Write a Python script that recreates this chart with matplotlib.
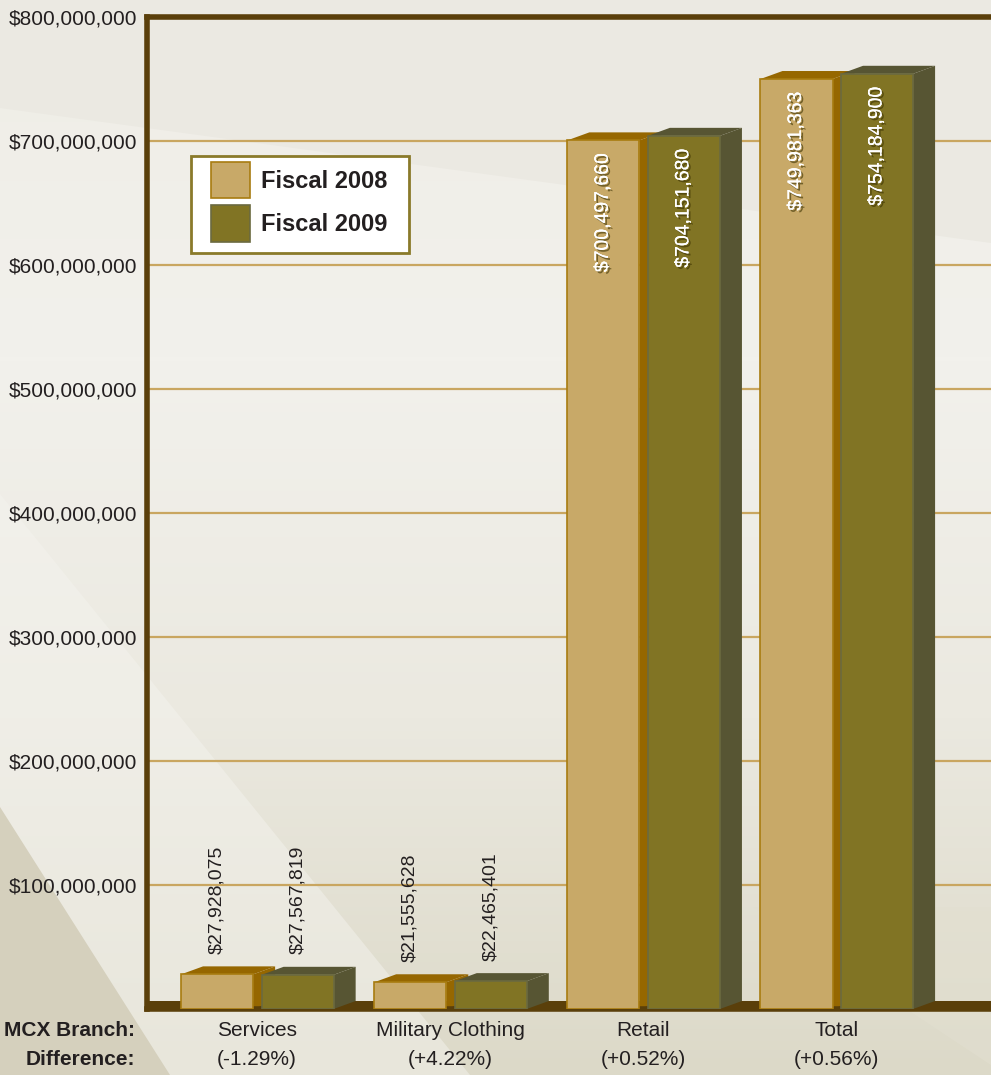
import matplotlib
matplotlib.use("Agg")
import numpy as np
import matplotlib.pyplot as plt
import matplotlib.patheffects as pe
from matplotlib.patches import Polygon, Patch, Rectangle
from matplotlib.colors import LinearSegmentedColormap
from matplotlib.ticker import FuncFormatter

plt.rcParams['font.family'] = ['Liberation Sans', 'DejaVu Sans']

# data
branches = ['Services', 'Military Clothing', 'Retail', 'Total']
differences = ['(-1.29%)', '(+4.22%)', '(+0.52%)', '(+0.56%)']
fiscal_2008 = [27928075, 21555628, 700497660, 749981363]
fiscal_2009 = [27567819, 22465401, 704151680, 754184900]
series_names = ['Fiscal 2008', 'Fiscal 2009']

front_cols = ['#c8a968', '#817424']
side_cols = ['#966700', '#575533']
edge_cols = ['#a87c10', '#6b6a40']
txt = '#231f20'

fig = plt.figure(figsize=(9.91, 10.75), dpi=100)
fig.patch.set_facecolor('#ebe8df')

# background: vertical gradient plus a few soft diagonal shapes (figure pixel coords)
W, H = 991, 1075
bg = fig.add_axes([0, 0, 1, 1], zorder=-10)
grad = np.linspace(0, 1, 256).reshape(-1, 1)
cm = LinearSegmentedColormap.from_list('bg', ['#efede6', '#f2f1ec', '#ebe9e0', '#dcd9c8'])
bg.imshow(grad, aspect='auto', cmap=cm, extent=[0, W, H, 0])
bg.add_patch(Polygon([(0, 0), (0, 108), (W, 243), (W, 0)], closed=True,
                     facecolor='#ebe9e2', edgecolor='none'))
bg.add_patch(Polygon([(0, 494), (0, H), (470, H)], closed=True,
                     facecolor='#f4f3ee', edgecolor='none', alpha=0.5))
bg.add_patch(Polygon([(0, 807), (0, H), (170, H)], closed=True,
                     facecolor='#d5d0bd', edgecolor='none'))
bg.add_patch(Polygon([(753, 907), (W, 1065), (W, 907)], closed=True,
                     facecolor='#e2dfd0', edgecolor='none', alpha=0.6))
bg.set_xlim(0, W)
bg.set_ylim(H, 0)
bg.axis('off')

ax = fig.add_axes([0.1483, 0.0614, 0.8517, 0.9228])
ax.set_facecolor('none')

x = list(range(len(branches)))
width = 0.373
offsets = [-0.207, 0.21]
dx = 0.114
dy = 6.45e6

ax.set_xlim(-0.57, 3.80)
ax.set_ylim(0, 800e6)

# floor
ax.add_patch(Polygon([(-0.57, 0), (3.80, 0), (3.80, dy), (-0.57, dy)], closed=True,
                     facecolor='#5a3f0a', edgecolor='none', zorder=1))

shadow = [pe.withSimplePatchShadow(offset=(1.5, -1.5), shadow_rgbFace='#3a3000', alpha=0.6)]

for k, vals in enumerate([fiscal_2008, fiscal_2009]):
    for i, v in enumerate(vals):
        xc = x[i] + offsets[k]
        x0, x1 = xc - width / 2, xc + width / 2
        ax.bar(xc, v, width=width, color=front_cols[k], edgecolor=edge_cols[k],
               linewidth=1.2, zorder=3 + k)
        # top and side faces
        ax.add_patch(Polygon([(x0, v), (x0 + dx, v + dy), (x1 + dx, v + dy), (x1, v)],
                             closed=True, facecolor=side_cols[k], edgecolor='none', zorder=2 + k))
        ax.add_patch(Polygon([(x1, 0), (x1 + dx, dy), (x1 + dx, v + dy), (x1, v)],
                             closed=True, facecolor=side_cols[k], edgecolor='none', zorder=2 + k))
        label = '${:,}'.format(v)
        if v > 300e6:
            t = ax.text(xc, v - 10e6, label, rotation=90, ha='center', va='top', color='white',
                        fontsize=14, zorder=10)
            t.set_path_effects([pe.withStroke(linewidth=0.01, foreground='white')] + shadow)
        else:
            ax.text(xc, v + dy + 10e6, label, rotation=90, ha='center', va='bottom', color=txt,
                    fontsize=14, zorder=10)

ax.set_yticks(range(100000000, 800000001, 100000000))
ax.yaxis.set_major_formatter(FuncFormatter(lambda val, p: '${:,.0f}'.format(val)))
ax.grid(axis='y', color='#c9a660', linewidth=1.6, zorder=0)
ax.set_axisbelow(True)
ax.tick_params(axis='y', length=0, labelsize=15, labelcolor=txt, pad=7)
ax.set_xticks([])

for side in ['left', 'top', 'bottom']:
    ax.spines[side].set_color('#5a3f0a')
    ax.spines[side].set_linewidth(4)
ax.spines['right'].set_visible(False)

# category labels
for i in x:
    ax.text(i, -17e6, branches[i], ha='center', va='center', fontsize=15, color=txt)
    ax.text(i, -41e6, differences[i], ha='center', va='center', fontsize=15, color=txt)
ax.text(-0.014, -17e6, 'MCX Branch:', transform=ax.get_yaxis_transform(), ha='right',
        va='center', fontsize=15, fontweight='bold', color=txt)
ax.text(-0.014, -41e6, 'Difference:', transform=ax.get_yaxis_transform(), ha='right',
        va='center', fontsize=15, fontweight='bold', color=txt)

# legend box drawn separately so its padding can match
ax.add_patch(Rectangle((0.052, 0.762), 0.258, 0.098, transform=ax.transAxes,
                       facecolor='white', edgecolor='#8a7a2a', linewidth=2, zorder=8))
handles = [Patch(facecolor=front_cols[k], edgecolor=edge_cols[k], linewidth=1.2,
                 label=series_names[k]) for k in range(2)]
leg = ax.legend(handles=handles, loc='upper left', bbox_to_anchor=(0.0758, 0.854),
                borderaxespad=0, borderpad=0, prop={'weight': 'bold', 'size': 17},
                handlelength=1.65, handleheight=2.0, handletextpad=0.45,
                labelspacing=0.3, frameon=False)
leg.set_zorder(9)
for t in leg.get_texts():
    t.set_color(txt)

fig.savefig('out.png', dpi=100, facecolor=fig.get_facecolor())
